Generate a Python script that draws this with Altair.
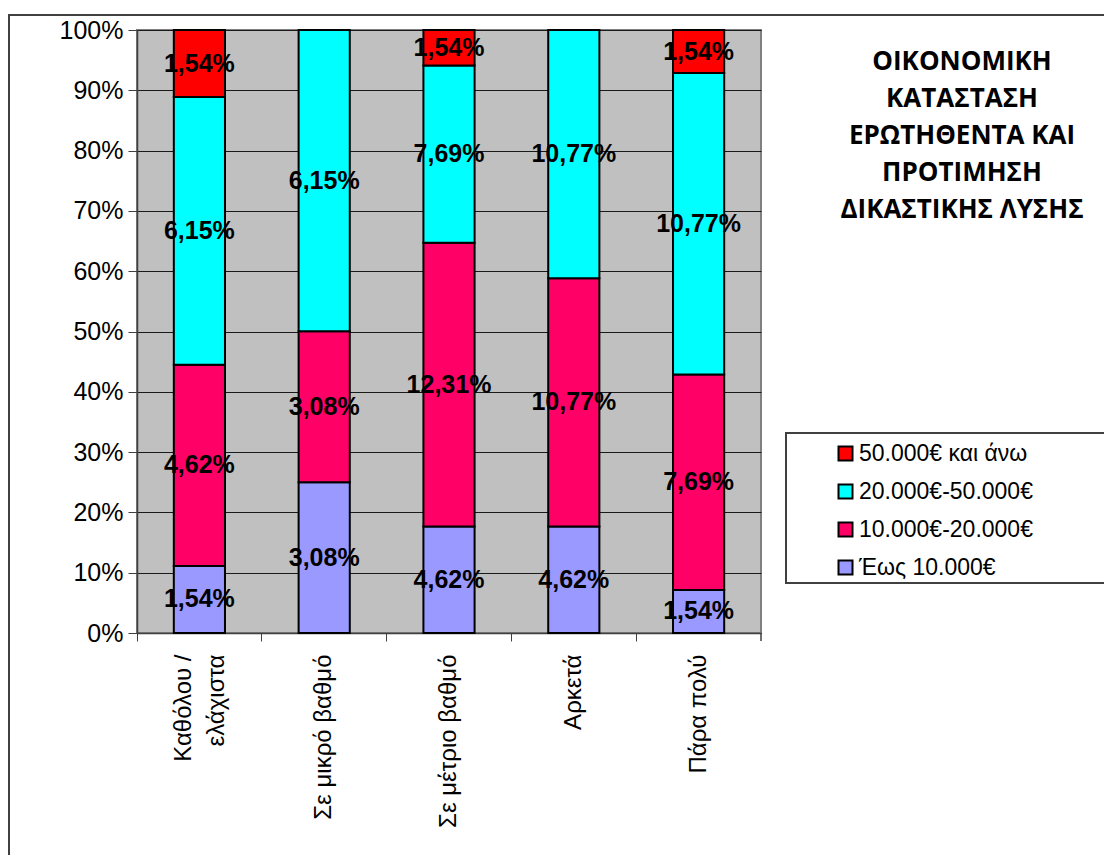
import altair as alt
import pandas as pd

categories = ["Καθόλου /\nελάχιστα", "Σε μικρό βαθμό", "Σε μέτριο βαθμό", "Αρκετά", "Πάρα πολύ"]
series = ["Έως 10.000€", "10.000€-20.000€", "20.000€-50.000€", "50.000€ και άνω"]
upto_10 = [1.54, 3.08, 4.62, 4.62, 1.54]
from_10_to_20 = [4.62, 3.08, 12.31, 10.77, 7.69]
from_20_to_50 = [6.15, 6.15, 7.69, 10.77, 10.77]
over_50 = [1.54, 0.0, 1.54, 0.0, 1.54]
colors = {"50.000€ και άνω": "#FF0000", "20.000€-50.000€": "#00FFFF",
          "10.000€-20.000€": "#FF0066", "Έως 10.000€": "#9999FF"}
legend_order = ["50.000€ και άνω", "20.000€-50.000€", "10.000€-20.000€", "Έως 10.000€"]
title_lines = ["ΟΙΚΟΝΟΜΙΚΗ", "ΚΑΤΑΣΤΑΣΗ", "ΕΡΩΤΗΘΕΝΤΑ ΚΑΙ", "ΠΡΟΤΙΜΗΣΗ", "ΔΙΚΑΣΤΙΚΗΣ ΛΥΣΗΣ"]
y_ticks = [0, 0.1, 0.2, 0.3, 0.4, 0.5, 0.6, 0.7, 0.8, 0.9, 1.0]

rows = []
for si, (name, vals) in enumerate(zip(series, [upto_10, from_10_to_20, from_20_to_50, over_50])):
    for c, v in zip(categories, vals):
        rows.append({"cat": c, "series": name, "order": si, "value": v,
                     "lbl": f"{v:.2f}".replace(".", ",") + "%"})
df = pd.DataFrame(rows)
one = pd.DataFrame({"a": [0]})

W, H = 624, 603

base = (alt.Chart(df)
        .transform_filter("datum.value > 0")
        .transform_stack(stack="value", groupby=["cat"], as_=["y0", "y1"],
                         offset="normalize", sort=[alt.SortField("order", order="ascending")])
        .transform_calculate(ymid="(datum.y0 + datum.y1) / 2"))

x_enc = alt.X("cat:N", sort=categories,
              scale=alt.Scale(paddingInner=0, paddingOuter=0),
              axis=alt.Axis(title=None, labelAngle=-90, bandPosition=0,
                            labelExpr="split(datum.label, '\\n')", labelLineHeight=33,
                            labelOffset={"condition": {"test": "indexof(datum.label, '\\n') >= 0",
                                                       "value": -15},
                                         "value": 0},
                            labelFont="Liberation Sans", labelFontSize=24, labelColor="black",
                            labelLimit=400, labelPadding=13, tickSize=8, tickColor="#404040",
                            domainColor="#404040", domainWidth=1.5, grid=False))

bars = base.mark_bar(width={"band": 0.41}, stroke="black", strokeWidth=2).encode(
    x=x_enc,
    y=alt.Y("y0:Q", scale=alt.Scale(domain=[0, 1]),
            axis=alt.Axis(title=None, format=".0%", values=y_ticks, grid=True,
                          gridColor="#1a1a1a", gridWidth=1, domainColor="#404040",
                          domainWidth=1.5, tickColor="#404040", tickSize=9,
                          labelFont="Liberation Sans", labelFontSize=25,
                          labelColor="black", labelPadding=5)),
    y2="y1:Q",
    color=alt.Color("series:N",
                    scale=alt.Scale(domain=legend_order, range=[colors[s] for s in legend_order]),
                    legend=alt.Legend(title=None, orient="none", legendX=697, legendY=412,
                                      padding=0, symbolType="square", symbolSize=196,
                                      symbolStrokeColor="black", symbolStrokeWidth=2,
                                      labelFont="Liberation Sans", labelFontSize=23,
                                      labelColor="black", labelLimit=400,
                                      rowPadding=14, labelOffset=2)),
)

labels = base.mark_text(font="Liberation Sans", fontSize=25, fontWeight="bold",
                        color="black", baseline="middle", align="center").encode(
    x=alt.X("cat:N", sort=categories),
    y=alt.Y("ymid:Q"),
    text="lbl:N",
)

legend_box = alt.Chart(one).mark_rect(fill="white", stroke="#404040", strokeWidth=2).encode(
    x=alt.value(649), x2=alt.value(970), y=alt.value(403), y2=alt.value(553))

frame = alt.Chart(one).mark_rect(filled=False, stroke="#404040", strokeWidth=2).encode(
    x=alt.value(-128), x2=alt.value(1300), y=alt.value(-15), y2=alt.value(1100))

end_tick = alt.Chart(one).mark_rule(color="#404040", strokeWidth=1.5).encode(
    x=alt.value(W), y=alt.value(H), y2=alt.value(H + 8))

title = alt.Chart(one).mark_text(text=title_lines, font="Open Sans", fontSize=26,
                                 fontWeight="bold", color="black", align="center",
                                 baseline="top", lineHeight=37).encode(
    x=alt.value(825), y=alt.value(19))

chart = (alt.layer(frame, legend_box, bars, labels, end_tick, title)
         .properties(width=W, height=H, autosize="none",
                     padding={"left": 129, "top": 22, "right": 343, "bottom": 222},
                     background="white")
         .configure_view(fill="#C0C0C0", stroke="#808080", strokeWidth=2))

chart.save("out.html", embed_options={"renderer": "svg", "actions": False})
